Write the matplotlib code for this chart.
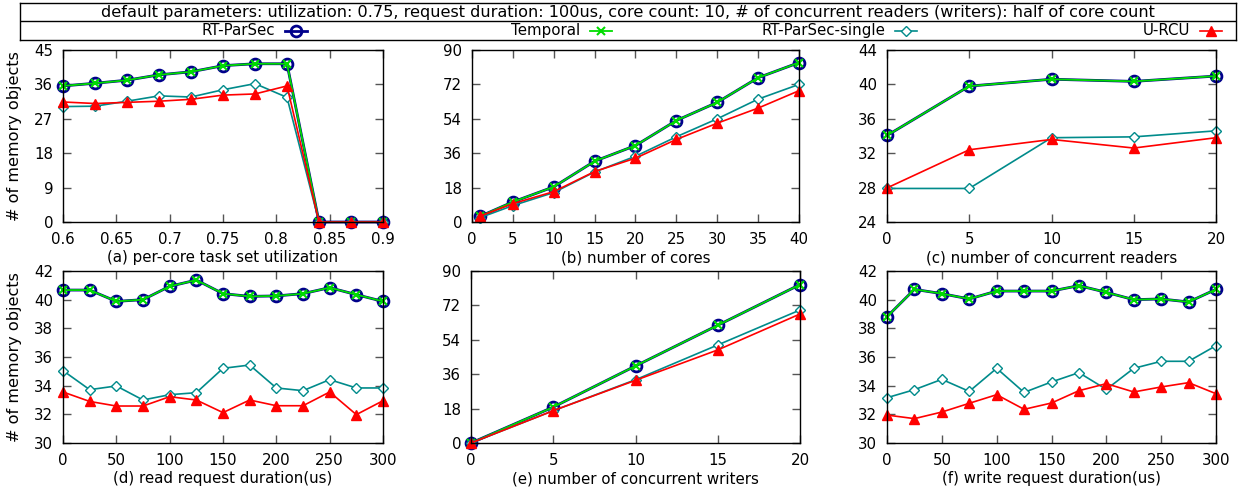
import numpy as np
import matplotlib
matplotlib.use('Agg')
import matplotlib.pyplot as plt
from matplotlib.ticker import FuncFormatter

plt.rcParams['font.family'] = ['DejaVu Sans']

series_names = ['RT-ParSec', 'Temporal', 'RT-ParSec-single', 'U-RCU']

# (a) per-core task set utilization
util_x = [0.6, 0.63, 0.66, 0.69, 0.72, 0.75, 0.78, 0.81, 0.84, 0.87, 0.9]
util_parsec = [35.6, 36.3, 37.1, 38.5, 39.3, 40.9, 41.4, 41.4, 0, 0, 0]
util_temporal = [35.6, 36.3, 37.1, 38.5, 39.3, 40.9, 41.4, 41.4, 0, 0, 0]
util_single = [30.2, 30.3, 31.6, 33.0, 32.7, 34.6, 36.2, 32.6, 0, 0, 0]
util_urcu = [31.4, 31.0, 31.3, 31.6, 32.1, 33.2, 33.5, 35.6, 0, 0, 0]

# (b) number of cores
cores_x = [1, 5, 10, 15, 20, 25, 30, 35, 40]
cores_parsec = [3.0, 10.5, 18.4, 31.8, 40.0, 53.1, 62.6, 75.5, 83.4]
cores_temporal = [3.0, 10.5, 18.4, 31.8, 40.0, 53.1, 62.6, 75.5, 83.4]
cores_single = [2.3, 8.6, 15.4, 26.2, 34.4, 44.6, 54.0, 64.3, 72.0]
cores_urcu = [3.1, 9.6, 15.9, 26.4, 33.4, 43.2, 51.7, 59.6, 68.7]

# (c) number of concurrent readers
readers_x = [0, 5, 10, 15, 20]
readers_parsec = [34.06, 39.8, 40.6, 40.35, 40.97]
readers_temporal = [34.06, 39.8, 40.6, 40.35, 40.97]
readers_single = [27.9, 27.9, 33.8, 33.9, 34.6]
readers_urcu = [27.96, 32.4, 33.6, 32.6, 33.8]

# (d) read request duration
rdur_x = [0, 25, 50, 75, 100, 125, 150, 175, 200, 225, 250, 275, 300]
rdur_parsec = [40.67, 40.67, 39.88, 40.0, 40.93, 41.37, 40.42, 40.23, 40.26, 40.42, 40.84, 40.35, 39.88]
rdur_temporal = [40.67, 40.67, 39.88, 40.0, 40.93, 41.37, 40.42, 40.23, 40.26, 40.42, 40.84, 40.35, 39.88]
rdur_single = [35.05, 33.72, 33.98, 33.0, 33.37, 33.51, 35.21, 35.44, 33.84, 33.65, 34.42, 33.84, 33.84]
rdur_urcu = [33.56, 32.9, 32.58, 32.58, 33.23, 33.0, 32.12, 33.0, 32.6, 32.6, 33.56, 31.98, 32.95]

# (e) number of concurrent writers
writers_x = [0, 5, 10, 15, 20]
writers_parsec = [0, 18.8, 40.3, 61.6, 82.9]
writers_temporal = [0, 18.8, 40.3, 61.6, 82.9]
writers_single = [0, 16.9, 33.1, 51.3, 69.6]
writers_urcu = [0, 16.9, 32.8, 48.7, 67.5]

# (f) write request duration
wdur_x = [0, 25, 50, 75, 100, 125, 150, 175, 200, 225, 250, 275, 300]
wdur_parsec = [38.81, 40.72, 40.42, 40.05, 40.6, 40.6, 40.6, 40.98, 40.51, 40.0, 40.05, 39.84, 40.72]
wdur_temporal = [38.81, 40.72, 40.42, 40.05, 40.6, 40.6, 40.6, 40.98, 40.51, 40.0, 40.05, 39.84, 40.72]
wdur_single = [33.16, 33.72, 34.44, 33.6, 35.21, 33.53, 34.26, 34.91, 33.74, 35.21, 35.7, 35.7, 36.79]
wdur_urcu = [31.95, 31.7, 32.16, 32.77, 33.37, 32.35, 32.79, 33.65, 34.14, 33.56, 33.91, 34.21, 33.44]

styles = [
    dict(color='#00008b', marker='o', markersize=7.8, markerfacecolor='none',
         markeredgewidth=2.0, linewidth=2.0),
    dict(color='#00dd00', marker='x', markersize=6, markeredgewidth=1.5,
         linewidth=1.3),
    dict(color='#008b8b', marker='D', markersize=5.5, markerfacecolor='white',
         markeredgewidth=1.0, linewidth=1.2),
    dict(color='#ff0000', marker='^', markersize=6.5, linewidth=1.2),
]

panels = [
    # x, series, xlabel, xticks, yticks, pixel box (left, top, right, bottom)
    (util_x, [util_parsec, util_temporal, util_single, util_urcu],
     '(a) per-core task set utilization',
     np.arange(0.6, 0.901, 0.05), np.arange(0, 46, 9), (63, 50, 383, 222)),
    (cores_x, [cores_parsec, cores_temporal, cores_single, cores_urcu],
     '(b) number of cores',
     np.arange(0, 41, 5), np.arange(0, 91, 18), (472, 50, 799, 222)),
    (readers_x, [readers_parsec, readers_temporal, readers_single, readers_urcu],
     '(c) number of concurrent readers',
     np.arange(0, 21, 5), np.arange(24, 45, 4), (887, 50, 1216, 222)),
    (rdur_x, [rdur_parsec, rdur_temporal, rdur_single, rdur_urcu],
     '(d) read request duration(us)',
     np.arange(0, 301, 50), np.arange(30, 43, 2), (63, 271, 383, 443)),
    (writers_x, [writers_parsec, writers_temporal, writers_single, writers_urcu],
     '(e) number of concurrent writers',
     np.arange(0, 21, 5), np.arange(0, 91, 18), (471, 271, 800, 443)),
    (wdur_x, [wdur_parsec, wdur_temporal, wdur_single, wdur_urcu],
     '(f) write request duration(us)',
     np.arange(0, 301, 50), np.arange(30, 43, 2), (887, 271, 1216, 443)),
]

W, H = 1240, 493
fig = plt.figure(figsize=(W / 100, H / 100), dpi=100)

fmt = FuncFormatter(lambda v, p: '%g' % round(v, 3))

for i, (x, ys, xlabel, xt, yt, (l, t, r, b)) in enumerate(panels):
    ax = fig.add_axes([l / W, (H - b) / H, (r - l) / W, (b - t) / H])
    for y, st in zip(ys, styles):
        ax.plot(x, y, clip_on=False, **st)
    ax.set_xlim(xt[0], xt[-1])
    ax.set_ylim(yt[0], yt[-1])
    ax.set_xticks(xt)
    ax.set_yticks(yt)
    ax.xaxis.set_major_formatter(fmt)
    ax.yaxis.set_major_formatter(fmt)
    ax.tick_params(direction='in', length=6, width=1, color='#555555',
                   top=True, right=True, labelsize=10.8, pad=7)
    for sp in ax.spines.values():
        sp.set_linewidth(1.0)
    ax.set_xlabel(xlabel, fontsize=10.8)
    ax.xaxis.set_label_coords(0.5, -0.165)
    if i % 3 == 0:
        ax.set_ylabel('# of memory objects', fontsize=11.6)
        ax.yaxis.set_label_coords(-0.128, 0.5)

# header box with title and legend
hx0, hx1, hy0, hy1 = 20, 1236, 3, 40
hax = fig.add_axes([hx0 / W, (H - hy1) / H, (hx1 - hx0) / W, (hy1 - hy0) / H])
hax.set_xlim(hx0, hx1)
hax.set_ylim(hy1, hy0)
hax.set_xticks([])
hax.set_yticks([])
for sp in hax.spines.values():
    sp.set_linewidth(1.0)
hax.axhline(21, color='black', linewidth=1.0)
hax.text((hx0 + hx1) / 2, 12, 'default parameters: utilization: 0.75, request duration: 100us, '
         'core count: 10, # of concurrent readers (writers): half of core count',
         ha='center', va='center', fontsize=11.6)

text_ends = [275, 580, 885, 1190]
for name, st, xe in zip(series_names, styles, text_ends):
    hax.text(xe, 30.5, name, ha='right', va='center', fontsize=10.8)
    hax.plot([xe + 10, xe + 32], [30.5, 30.5], linewidth=st['linewidth'],
             color=st['color'])
    mk = {k: v for k, v in st.items() if k != 'linewidth'}
    hax.plot([xe + 21], [30.5], linestyle='none', **mk)

fig.savefig('out.png', dpi=100)
